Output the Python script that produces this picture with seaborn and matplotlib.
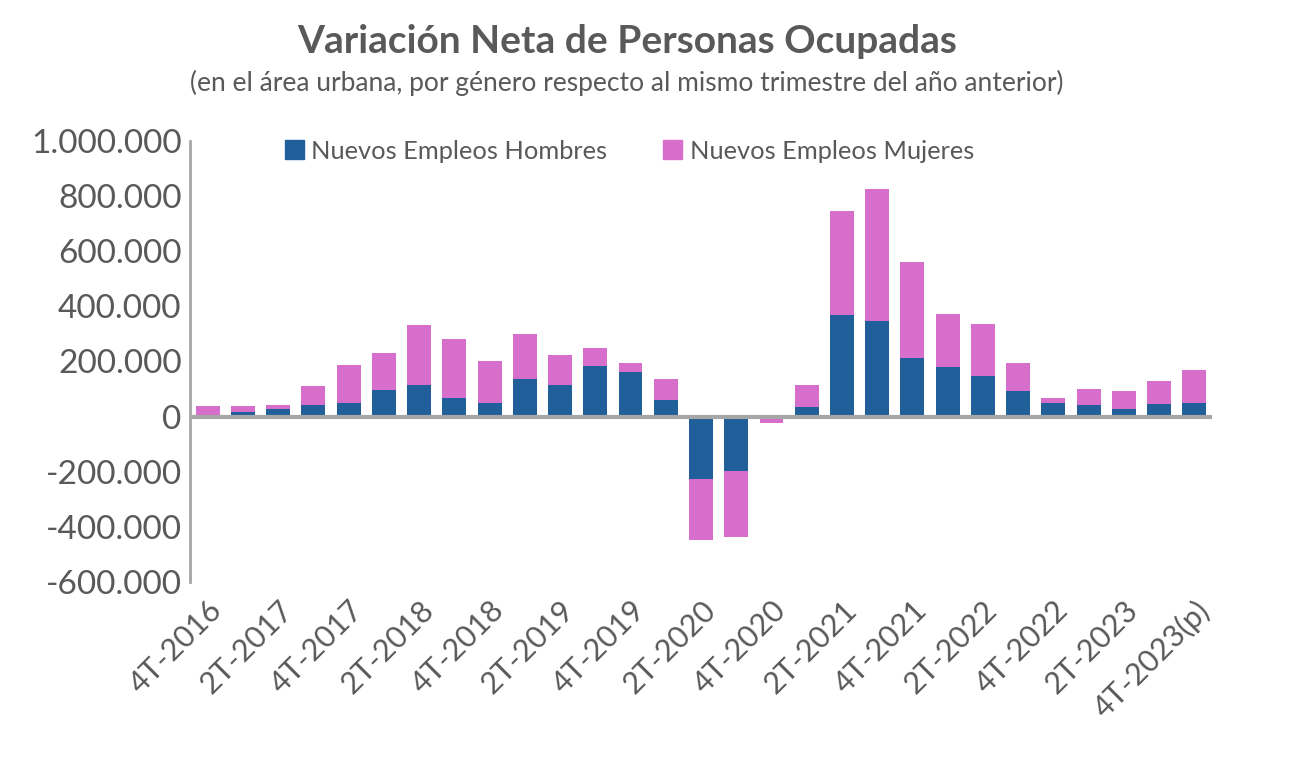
import matplotlib
matplotlib.use("Agg")
import matplotlib.pyplot as plt
import numpy as np
import pandas as pd
import seaborn as sns
from matplotlib.patches import Patch
from matplotlib.ticker import FuncFormatter

# trimestres (4T-2016 .. 4T-2023(p))
quarters = ["4T-2016", "1T-2017", "2T-2017", "3T-2017", "4T-2017",
            "1T-2018", "2T-2018", "3T-2018", "4T-2018",
            "1T-2019", "2T-2019", "3T-2019", "4T-2019",
            "1T-2020", "2T-2020", "3T-2020", "4T-2020",
            "1T-2021", "2T-2021", "3T-2021", "4T-2021",
            "1T-2022", "2T-2022", "3T-2022", "4T-2022",
            "1T-2023", "2T-2023", "3T-2023", "4T-2023(p)"]

hombres = [6000, 15000, 29000, 42000, 50000,
           97000, 115000, 69000, 50000,
           138000, 115000, 184000, 162000,
           60000, -225000, -196000, 5000,
           35000, 367000, 347000, 214000,
           180000, 148000, 94000, 50000,
           42000, 28000, 46000, 50000]

mujeres = [33000, 24000, 13000, 68000, 136000,
           135000, 217000, 213000, 150000,
           162000, 109000, 65000, 33000,
           77000, -224000, -242000, -25000,
           80000, 379000, 479000, 347000,
           192000, 188000, 101000, 18000,
           58000, 66000, 84000, 120000]

BLUE = "#215F9A"
PINK = "#D86ECC"
GRAY = "#595959"

sns.set_style("white")
plt.rcParams["font.family"] = ["Lato", "DejaVu Sans"]

df = pd.DataFrame({"trimestre": quarters, "H": hombres, "M": mujeres})
# Excel apila positivos y negativos por separado
same = np.sign(df["H"]) == np.sign(df["M"])
df["M_top"] = np.where(same, df["H"] + df["M"], df["M"])

fig = plt.figure(figsize=(13.12, 7.82), dpi=100)
ax = fig.add_axes([0.1448, 0.2558, 0.779, 0.5639])

sns.barplot(data=df, x="trimestre", y="M_top", color=PINK, width=0.68,
            saturation=1, linewidth=0, ax=ax)
sns.barplot(data=df, x="trimestre", y="H", color=BLUE, width=0.68,
            saturation=1, linewidth=0, ax=ax)

ax.set_ylim(-600000, 1000000)
ax.set_xlim(-0.5, len(quarters) - 0.5)
ax.set_yticks(np.arange(-600000, 1000001, 200000))
ax.yaxis.set_major_formatter(FuncFormatter(lambda v, p: f"{v:,.0f}".replace(",", ".")))
ax.tick_params(axis="y", labelsize=24, labelcolor=GRAY, length=0, pad=6)

ticks = list(range(0, len(quarters), 2))
ax.set_xticks(ticks)
ax.set_xticklabels([quarters[i] for i in ticks], rotation=45, ha="right",
                   va="top", rotation_mode="anchor", fontsize=22, color=GRAY)
ax.tick_params(axis="x", length=0, pad=10)
ax.set_xlabel("")
ax.set_ylabel("")

for s in ["top", "right", "bottom"]:
    ax.spines[s].set_visible(False)
ax.spines["left"].set_color("#A6A6A6")
ax.spines["left"].set_linewidth(2)
ax.axhline(0, color="#A6A6A6", lw=3, zorder=5)

handles = [Patch(color=BLUE, label="Nuevos Empleos Hombres"),
           Patch(color=PINK, label="Nuevos Empleos Mujeres")]
ax.legend(handles=handles, loc="upper center", bbox_to_anchor=(0.43, 1.055),
          ncol=2, frameon=False, fontsize=18.3, handlelength=0.75,
          handleheight=0.75, handletextpad=0.3, columnspacing=2.2,
          labelcolor=GRAY)

fig.text(0.478, 0.947, "Variación Neta de Personas Ocupadas", ha="center",
         va="center", fontsize=28, fontweight="bold", color=GRAY)
fig.text(0.4775, 0.894, "(en el área urbana, por género respecto al mismo trimestre del año anterior)",
         ha="center", va="center", fontsize=19, color=GRAY)

fig.savefig("out.png", dpi=100)
